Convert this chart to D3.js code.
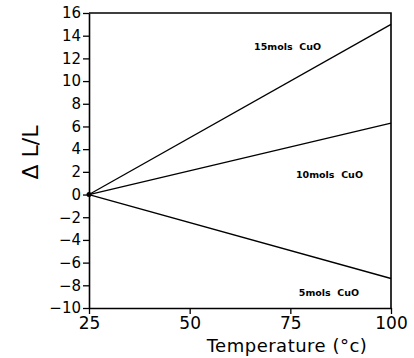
<html>
<head>
  <style>
    body { margin: 0; background: #fff; }
    svg text { font-family: "DejaVu Sans", sans-serif; fill: #000; }
    svg .domain { stroke: #000; stroke-width: 1.6px; }
    svg .tick line { stroke: #000; stroke-width: 1.3px; }
    svg .tick text { font-size: 15px; }
    svg .series { fill: none; stroke: #000; stroke-width: 1.3px; }
  </style>
</head>
<body>
<div id="chart"></div>
<script src="https://d3js.org/d3.v7.min.js"></script>
<script>
  // values
  var temps = [25, 100];
  var series = [
    { name: "15mols  CuO", values: [0, 15.0] },
    { name: "10mols  CuO", values: [0, 6.3] },
    { name: "5mols  CuO", values: [0, -7.4] }
  ];
  var xTicks = [25, 50, 75, 100];
  var yTicks = [-10, -8, -6, -4, -2, 0, 2, 4, 6, 8, 10, 12, 14, 16];
  // label anchor positions in data units
  var labelPos = [
    { x: 66, y: 12.7 },
    { x: 76.4, y: 1.45 },
    { x: 77.1, y: -8.9 }
  ];

  var width = 414, height = 358;
  var plot = { left: 89, right: 391, top: 13, bottom: 308 };

  var svg = d3.select("#chart").append("svg")
      .attr("width", width)
      .attr("height", height);

  var x = d3.scaleLinear().domain([25, 100]).range([plot.left, plot.right]);
  var y = d3.scaleLinear().domain([-10, 16]).range([plot.bottom, plot.top]);

  // frame top + right
  svg.append("path")
    .attr("d", "M" + plot.left + "," + plot.top + "H" + plot.right + "V" + plot.bottom)
    .style("fill", "none")
    .style("stroke", "#000")
    .style("stroke-width", "1.6px");

  svg.append("g")
      .attr("transform", "translate(0," + plot.bottom + ")")
      .call(d3.axisBottom(x).tickValues(xTicks).tickSize(6).tickSizeOuter(0).tickPadding(3))
    .selectAll(".tick text")
      .style("font-size", "17px");

  svg.append("g")
      .attr("transform", "translate(" + plot.left + ",0)")
      .call(d3.axisLeft(y).tickValues(yTicks).tickSize(6).tickSizeOuter(0).tickPadding(2)
        .tickFormat(function (d) { return d < 0 ? "\u2212" + Math.abs(d) : d; }));

  var line = d3.line()
    .x(function (d, i) { return x(temps[i]); })
    .y(function (d) { return y(d); });

  svg.selectAll(".series")
    .data(series)
    .enter().append("path")
      .attr("class", "series")
      .attr("d", function (d) { return line(d.values); });

  svg.append("circle")
    .attr("cx", x(25))
    .attr("cy", y(0))
    .attr("r", 2.5)
    .style("fill", "#000");

  svg.selectAll(".lbl")
    .data(series)
    .enter().append("text")
      .attr("class", "lbl")
      .attr("x", function (d, i) { return x(labelPos[i].x); })
      .attr("y", function (d, i) { return y(labelPos[i].y); })
      .style("font-size", "9.5px")
      .style("font-weight", "bold")
      .style("white-space", "pre")
      .text(function (d) { return d.name; });

  svg.append("text")
    .attr("transform", "translate(38," + y(3.7) + ") rotate(-90)")
    .style("text-anchor", "middle")
    .style("font-size", "22px")
    .text("\u0394 L/L");

  svg.append("text")
    .attr("x", 287)
    .attr("y", 352)
    .style("text-anchor", "middle")
    .style("font-size", "18px")
    .style("letter-spacing", "0.5px")
    .text("Temperature (\u00b0c)");
</script>
</body>
</html>
